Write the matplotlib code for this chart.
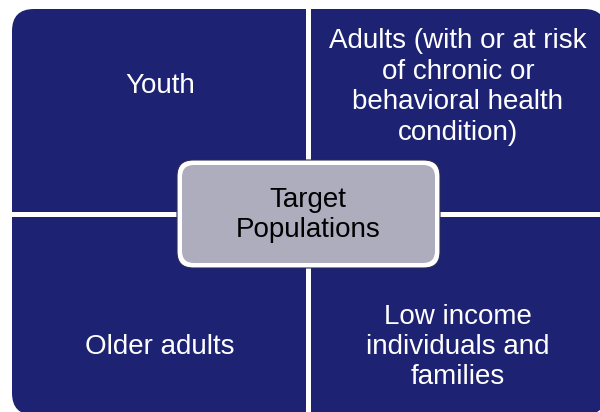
import matplotlib
matplotlib.use('Agg')
import matplotlib.pyplot as plt
from matplotlib.patches import FancyBboxPatch, Rectangle

# quadrant labels (top-left, top-right, bottom-left, bottom-right)
labels = ['Youth',
          'Adults (with or at risk\nof chronic or\nbehavioral health\ncondition)',
          'Older adults',
          'Low income\nindividuals and\nfamilies']
label_x = [160, 458, 160, 458]
label_y = [86, 87, 347, 347]
center_label = 'Target\nPopulations'

navy = '#1d2372'
gray = '#aeadbd'
font = ['Liberation Sans Narrow', 'Liberation Sans', 'DejaVu Sans']

fig = plt.figure(figsize=(6, 4.12), dpi=100)
ax = fig.add_axes([0, 0, 1, 1])
ax.set_xlim(0, 600)
ax.set_ylim(412, 0)
ax.axis('off')

# big rounded block, then cut into four with white gaps
ax.add_patch(FancyBboxPatch((12, 9), 594, 406,
                            boxstyle='round,pad=0,rounding_size=22',
                            fc=navy, ec='none'))
ax.add_patch(Rectangle((306, 0), 5, 412, fc='white', ec='none'))
ax.add_patch(Rectangle((0, 212), 600, 5, fc='white', ec='none'))

for t, x, y in zip(labels, label_x, label_y):
    ax.text(x, y, t, color='white', fontsize=20, ha='center', va='center',
            family=font, linespacing=1.22)

# center box: white frame with thin dark line, gray inside
ax.add_patch(FancyBboxPatch((177, 160), 263, 108,
                            boxstyle='round,pad=0,rounding_size=16',
                            fc='white', ec='#2b2b55', lw=0.8))
ax.add_patch(FancyBboxPatch((182, 165), 253, 98,
                            boxstyle='round,pad=0,rounding_size=12',
                            fc=gray, ec='none'))
ax.text(308, 215, center_label, color='black', fontsize=20, ha='center',
        va='center', family=font, linespacing=1.22)

fig.savefig('out.png', dpi=100)
